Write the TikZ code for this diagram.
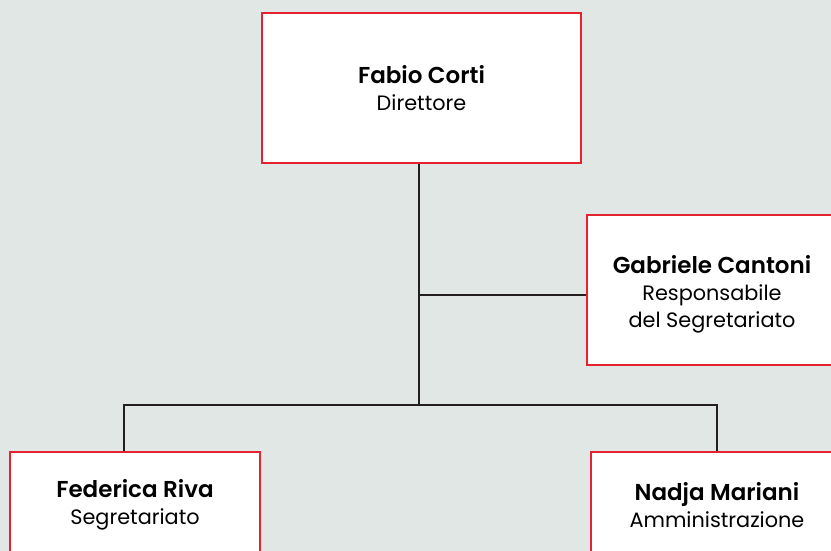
\documentclass[tikz,border=0pt]{standalone}
\usepackage{fontspec}
\setmainfont{Poppins}[BoldFont={Poppins SemiBold}]
\usetikzlibrary{positioning,calc}
\definecolor{bgcol}{HTML}{E1E7E4}
\definecolor{boxred}{HTML}{E52330}
\definecolor{linecol}{HTML}{231F20}
\newcommand{\who}[1]{{\fontsize{23}{27}\selectfont\bfseries #1}}
\tikzset{
	person/.style={draw=boxred,line width=2pt,fill=white,align=center,inner sep=0pt,
		font=\fontsize{20.8}{27}\selectfont},
	link/.style={draw=linecol,line width=2.5pt}
}
\begin{document}
\begin{tikzpicture}[x=1pt,y=-1pt]
	\fill[bgcol] (0,0) rectangle (831,551);
	\useasboundingbox (0,0) rectangle (831,551);
	\begin{scope}
	\clip (0,0) rectangle (831,551);
	\node[person,minimum width=319pt,minimum height=150pt] (corti) at (421.5,88)
		{\who{Fabio Corti}\\Direttore};
	\node[person,minimum width=250pt,minimum height=150pt] (cantoni) at (712,290)
		{\who{\rule{0pt}{27pt}Gabriele Cantoni}\\Responsabile\\del Segretariato};
	\node[person,minimum width=250pt,minimum height=106pt] (riva) at (135,505)
		{\who{Federica Riva}\\Segretariato};
	\node[person,minimum width=252pt,minimum height=106pt] (mariani) at (717,505)
		{\who{Nadja Mariani}\\Amministrazione};
	\path (corti.south) ++(-2.5,0) coordinate (top)
		(top |- 0,405) coordinate (hub);
	\draw[link] (top) -- (hub);
	\draw[link] ([yshift=-5pt]cantoni.west) -- ([yshift=-5pt]cantoni.west -| top);
	\draw[link] ([xshift=-11pt]riva.north) |- (hub) -| (mariani.north);
	\end{scope}
\end{tikzpicture}
\end{document}
